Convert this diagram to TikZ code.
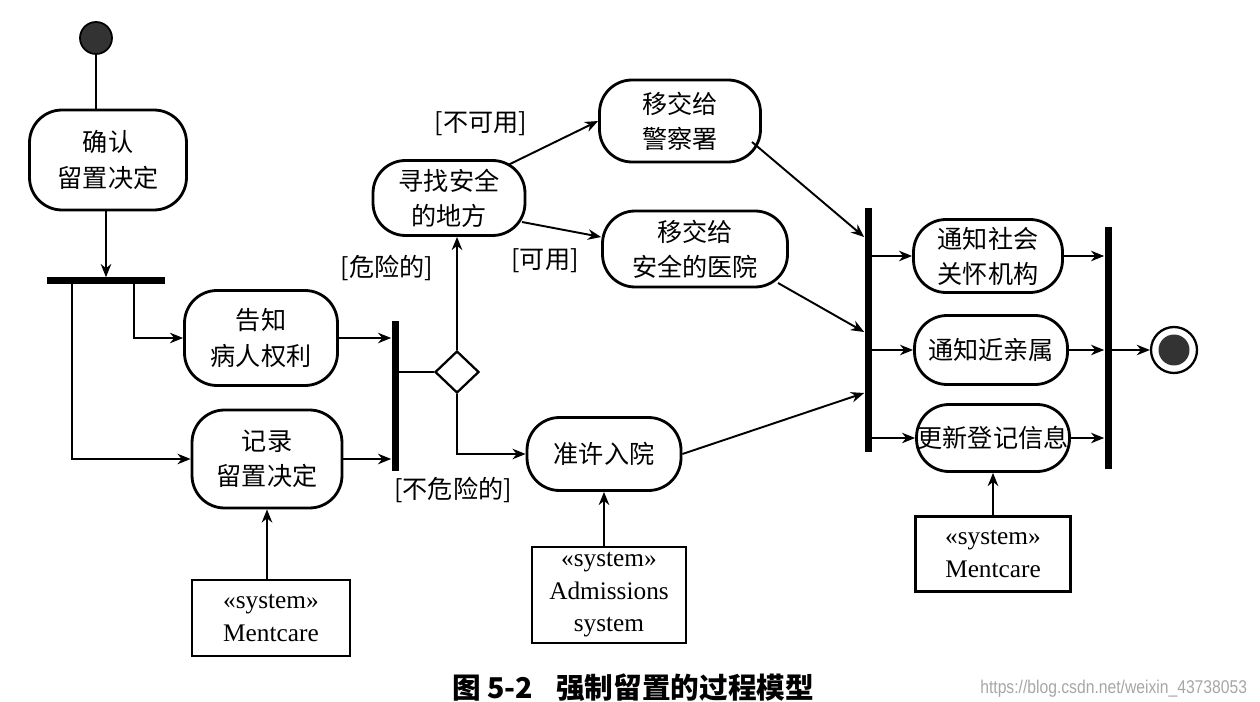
\documentclass[tikz,border=0pt]{standalone}
\usepackage{fontspec}
\setmainfont{Liberation Serif}
\newfontfamily\cjk{Noto Sans CJK SC}
\newfontfamily\wmfont{Liberation Sans}
\usetikzlibrary{arrows.meta,shapes.geometric,calc}
\begin{document}
\begin{tikzpicture}[x=0.02cm,y=-0.02cm,
  act/.style={draw,line width=1.6pt,rounded corners=0.65cm,align=center,font=\cjk\fontsize{14.3}{20}\selectfont,inner sep=0pt},
  sysbox/.style={draw,line width=1.5pt,align=center,font=\fontsize{14.4}{18.5}\selectfont,inner sep=0pt},
  bar/.style={fill=black,inner sep=0pt,draw=none},
  arr/.style={line width=1.1pt,-{Stealth[length=7.5pt,width=6pt]}},
  ln/.style={line width=1.1pt},
  guard/.style={font=\cjk\fontsize{14.3}{18}\selectfont,inner sep=0pt},
]
\useasboundingbox (0,0) rectangle (1260,702);

% nodes
\node[circle,fill=black!80,draw=black,line width=1pt,minimum size=0.64cm,inner sep=0pt] (start) at (96,38) {};
\node[act,minimum width=3.14cm,minimum height=2.0cm] (confirm) at (108,160) {确认\\留置决定};
\node[bar,minimum width=2.36cm,minimum height=0.14cm] (fork1) at (106,281) {};
\coordinate (f1a) at (72,281);
\coordinate (f1b) at (134,281);
\node[act,minimum width=3.06cm,minimum height=1.9cm] (inform) at (261,338) {告知\\病人权利};
\node[act,minimum width=3.0cm,minimum height=1.96cm] (record) at (267,459) {记录\\留置决定};
\node[bar,minimum width=0.14cm,minimum height=3.02cm] (join1) at (395,396) {};
\node[diamond,draw,line width=1.3pt,minimum width=0.88cm,minimum height=0.84cm,inner sep=0pt] (dec) at (457,372) {};
\node[act,minimum width=3.04cm,minimum height=1.5cm] (find) at (449,198) {寻找安全\\的地方};
\node[act,minimum width=3.22cm,minimum height=1.64cm] (police) at (680,121) {移交给\\警察署};
\node[act,minimum width=3.7cm,minimum height=1.52cm] (hosp) at (695,249) {移交给\\安全的医院};
\node[act,minimum width=3.08cm,minimum height=1.46cm] (admit) at (604,454) {准许入院};
\node[bar,minimum width=0.14cm,minimum height=4.88cm] (join2) at (868,330) {};
\node[act,minimum width=2.98cm,minimum height=1.46cm] (soc) at (988,256) {通知社会\\关怀机构};
\node[act,minimum width=3.06cm,minimum height=1.38cm] (kin) at (991,350) {通知近亲属};
\node[act,minimum width=3.06cm,minimum height=1.34cm] (upd) at (993,438) {更新登记信息};
\node[bar,minimum width=0.14cm,minimum height=4.86cm] (join3) at (1108,348) {};
\node[circle,draw,line width=1.3pt,minimum size=0.92cm,inner sep=0pt] (end) at (1174,350) {};
\node[circle,fill=black!80,minimum size=0.62cm,inner sep=0pt] (endin) at (1174,350) {};

\node[sysbox,minimum width=3.16cm,minimum height=1.52cm] (sys1) at (271,618) {«system»\\Mentcare};
\node[sysbox,minimum width=3.08cm,minimum height=1.92cm] (sys2) at (609,595) {«system»\\Admissions\\system};
\node[sysbox,minimum width=3.1cm,minimum height=1.5cm] (sys3) at (993,554) {«system»\\Mentcare};

% guards
\node[guard] (gDanger) at (387,268) {{[}危险的{]}};
\node[guard] (gSafe) at (453,490) {{[}不危险的{]}};
\node[guard] (gNA) at (481,124) {{[}不可用{]}};
\node[guard] (gA) at (545,261) {{[}可用{]}};

% caption
\node[anchor=west,inner sep=0pt,font=\cjk\bfseries\fontsize{16.3}{20}\selectfont] (cap) at (452,688) {图 5-2\hspace{0.8em}强制留置的过程模型};
\node[anchor=west,inner sep=0pt,text=black!35,font=\wmfont\fontsize{10.5}{12}\selectfont,xscale=0.85] (wm) at (980,689) {https://blog.csdn.net/weixin\_43738053};

% connectors
\draw[ln] (start.south) -- (start.south |- confirm.north);
\draw[arr] (fork1.north |- confirm.south) -- (fork1.north);
\draw[arr] (f1a) |- (record.west);
\draw[arr] (f1b) |- (inform.west);
\draw[arr] (inform.east) -- (inform.east -| join1.west);
\draw[arr] (record.east) -- (record.east -| join1.west);
\draw[ln] (join1.east |- dec.west) -- (dec.west);
\draw[arr] (dec.north) -- (dec.north |- find.south);
\draw[arr] (dec.south) |- (admit.west);
\draw[arr] ([shift={(59,-33)}]find.center) -- (police.west);
\draw[arr] ([shift={(73,24)}]find.center) -- ([shift={(0,-12)}]hosp.west);
\draw[arr] ([shift={(72,21)}]police.center) -- ([shift={(0,-93)}]join2.west);
\draw[arr] ([shift={(83,34)}]hosp.center) -- ([shift={(0,2)}]join2.west);
\draw[arr] (admit.east) -- ([shift={(0,63)}]join2.west);
\draw[arr] (join2.east |- soc.west) -- (soc.west);
\draw[arr] (join2.east |- kin.west) -- (kin.west);
\draw[arr] (join2.east |- upd.west) -- (upd.west);
\draw[arr] (soc.east) -- (soc.east -| join3.west);
\draw[arr] (kin.east) -- (kin.east -| join3.west);
\draw[arr] (upd.east) -- (upd.east -| join3.west);
\draw[arr] (join3.east |- end.west) -- (end.west);
\draw[arr] (sys1.north -| record.south) -- (record.south);
\draw[arr] (sys2.north -| admit.south) -- (admit.south);
\draw[arr] (sys3.north -| upd.south) -- (upd.south);
\end{tikzpicture}
\end{document}
